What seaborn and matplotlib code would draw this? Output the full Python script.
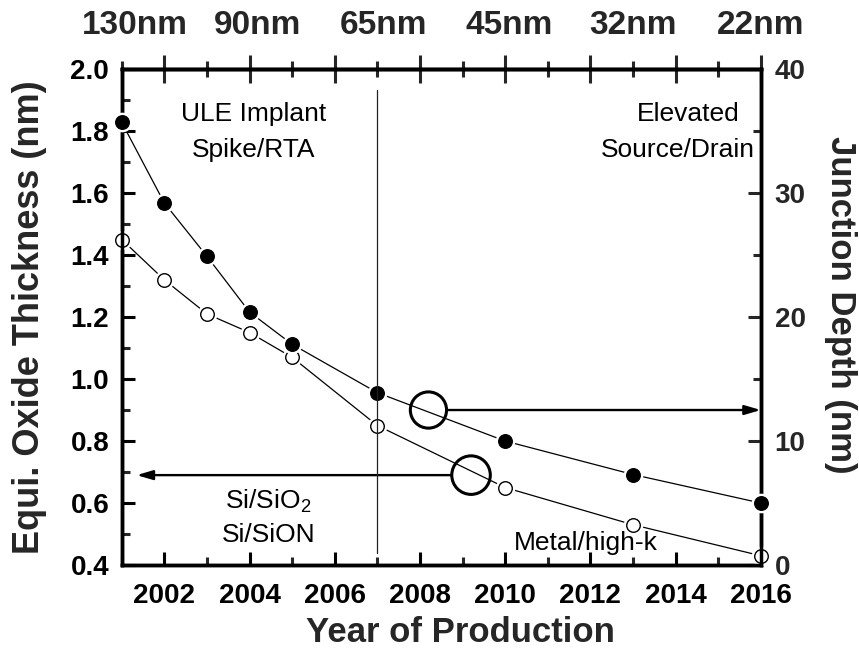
import matplotlib
matplotlib.use("Agg")
import matplotlib.pyplot as plt
import matplotlib.transforms as mtransforms
from matplotlib import font_manager as fm
from matplotlib.ticker import MultipleLocator, FormatStrFormatter
import pandas as pd
import seaborn as sns

# Scaling roadmap: equivalent oxide thickness and junction depth per year
years = [2001, 2002, 2003, 2004, 2005, 2007, 2010, 2013, 2016]
eot_nm = [1.45, 1.32, 1.21, 1.15, 1.07, 0.85, 0.65, 0.53, 0.43]
junction_depth_nm = [35.7, 29.2, 24.9, 20.4, 17.8, 13.9, 10.0, 7.3, 5.0]

# Technology nodes along the top
node_labels = ["130nm", "90nm", "65nm", "45nm", "32nm", "22nm"]
node_years = [2001, 2004, 2007, 2010, 2013, 2016]

year_ticks = [2002, 2004, 2006, 2008, 2010, 2012, 2014, 2016]
eot_ticks = [0.4, 0.6, 0.8, 1.0, 1.2, 1.4, 1.6, 1.8, 2.0]
xj_ticks = [0, 10, 20, 30, 40]

transition_year = 2007

# Callout circles marking which axis each series belongs to
xj_callout = (2008.2, 12.5)
eot_callout = (2009.2, 0.69)
eot_arrow_tip = 2001.35

sns.set_style("ticks")
available = {f.name for f in fm.fontManager.ttflist}
SANS = "Liberation Sans" if "Liberation Sans" in available else "DejaVu Sans"
plt.rcParams["font.family"] = [SANS, "DejaVu Sans"]
plt.rcParams["mathtext.fontset"] = "custom"
plt.rcParams["mathtext.rm"] = SANS
plt.rcParams["axes.edgecolor"] = "black"

fig = plt.figure(figsize=(8.59, 6.58), dpi=100)
ax = fig.add_axes([0.1417, 0.1413, 0.7439, 0.7538])
ax2 = ax.twinx()

df = pd.DataFrame({"year": years, "eot": eot_nm, "xj": junction_depth_nm})

# Open circles: EOT on the left axis
sns.lineplot(data=df, x="year", y="eot", ax=ax, color="black", linewidth=0.9, zorder=2)
sns.scatterplot(data=df, x="year", y="eot", ax=ax, s=200, color="white",
                linewidth=0, zorder=3, clip_on=False)
sns.scatterplot(data=df, x="year", y="eot", ax=ax, s=95, color="white",
                edgecolor="black", linewidth=1.0, zorder=4, clip_on=False)

# Filled circles: junction depth on the right axis
sns.lineplot(data=df, x="year", y="xj", ax=ax2, color="black", linewidth=0.9, zorder=2)
sns.scatterplot(data=df, x="year", y="xj", ax=ax2, s=200, color="white",
                linewidth=0, zorder=3, clip_on=False)
sns.scatterplot(data=df, x="year", y="xj", ax=ax2, s=95, color="black",
                edgecolor="black", linewidth=1.0, zorder=4, clip_on=False)

ax.set_xlim(2001, 2016)
ax.set_ylim(0.4, 2.0)
ax2.set_ylim(0, 40)

# Divider between process generations
ax2.axvline(transition_year, ymin=0.024, ymax=0.958, color="#222222", linewidth=0.9, zorder=10)

# Callout circles and arrows
arrow_style = "-|>,head_length=0.95,head_width=0.28"
ax2.scatter([xj_callout[0]], [xj_callout[1]], s=680, facecolor="none",
            edgecolor="black", linewidth=2.2, zorder=6)
ax2.annotate("", xy=(2016, xj_callout[1]), xytext=xj_callout,
             arrowprops=dict(arrowstyle=arrow_style, lw=1.7, color="black",
                             shrinkA=13.5, shrinkB=0, mutation_scale=10), zorder=6)
ax.scatter([eot_callout[0]], [eot_callout[1]], s=770, facecolor="none",
           edgecolor="black", linewidth=2.2, zorder=6)
ax.annotate("", xy=(eot_arrow_tip, eot_callout[1]), xytext=eot_callout,
            arrowprops=dict(arrowstyle=arrow_style, lw=1.7, color="black",
                            shrinkA=14.5, shrinkB=0, mutation_scale=10), zorder=6)

# Frame and ticks
for a in (ax, ax2):
    for sp in a.spines.values():
        sp.set_linewidth(2.5)
        sp.set_color("black")

ax.set_xticks(year_ticks, [str(y) for y in year_ticks])
ax.xaxis.set_minor_locator(MultipleLocator(1))
ax.set_yticks(eot_ticks)
ax.yaxis.set_minor_locator(MultipleLocator(0.1))
ax.yaxis.set_major_formatter(FormatStrFormatter("%.1f"))
ax2.set_yticks(xj_ticks)
ax2.yaxis.set_minor_locator(MultipleLocator(5))
ax2.yaxis.set_major_formatter(FormatStrFormatter("%d"))

ax.tick_params(axis="both", which="major", direction="in", length=9.5, width=2.2,
               top=False, right=False, colors="black")
ax.tick_params(axis="both", which="minor", direction="in", length=5.5, width=2.2,
               top=False, right=False)
ax.tick_params(axis="y", labelsize=20, pad=9)
ax.tick_params(axis="x", labelsize=20, pad=13)
ax2.tick_params(axis="y", which="major", direction="in", length=9.5, width=2.2,
                labelsize=20, pad=10, left=False, right=True)
ax2.tick_params(axis="y", which="minor", direction="in", length=5.5, width=2.2,
                left=False, right=True)

for t in ax.get_yticklabels() + ax2.get_yticklabels() + ax.get_xticklabels():
    t.set_fontweight("bold")

top = ax.secondary_xaxis("top")
top.set_xticks(year_ticks)
top.xaxis.set_minor_locator(MultipleLocator(1))
top.tick_params(which="major", direction="inout", length=20, width=2.2, labeltop=False)
top.tick_params(which="minor", direction="inout", length=11, width=2.2)
top.spines["top"].set_linewidth(2.5)

ax.set_xlabel("")
ax.set_ylabel("")
ax2.set_ylabel("")

# Axis titles
fig.text(460 / 859, 1 - 632 / 658, "Year of Production", ha="center", va="center",
         fontsize=25, fontweight="bold")
fig.text(30 / 859, 1 - 317 / 658, "Equi. Oxide Thickness (nm)", ha="center",
         va="center", rotation=90, fontsize=26, fontweight="bold")
fig.text(840 / 859, 1 - 305 / 658, "Junction Depth (nm)", ha="center",
         va="center", rotation=270, fontsize=25, fontweight="bold")

# Technology node labels above the plot
node_tf = mtransforms.blended_transform_factory(ax.transData, fig.transFigure)
node_nudge = [0.3, 0.2, 0.15, 0.1, 0.0, 0.0]
for yr, lab, dx in zip(node_years, node_labels, node_nudge):
    ax.text(yr + dx, 1 - 26 / 658, lab, transform=node_tf, ha="center", va="center",
            fontsize=24, fontweight="bold", clip_on=False)

# Process annotations
ann = dict(fontsize=19, ha="center", va="baseline", color="black")
ax.text(2004.1, 1.833, "ULE Implant", **ann)
ax.text(2004.1, 1.717, "Spike/RTA", **ann)
ax.text(2014.3, 1.833, "Elevated", **ann)
ax.text(2014.05, 1.717, "Source/Drain", **ann)
ax.text(2004.43, 0.581, "Si/SiO$_2$", **ann)
ax.text(2004.45, 0.474, "Si/SiON", **ann)
ax.text(2011.9, 0.448, "Metal/high-k", **ann)

fig.savefig("out.png", dpi=100)
